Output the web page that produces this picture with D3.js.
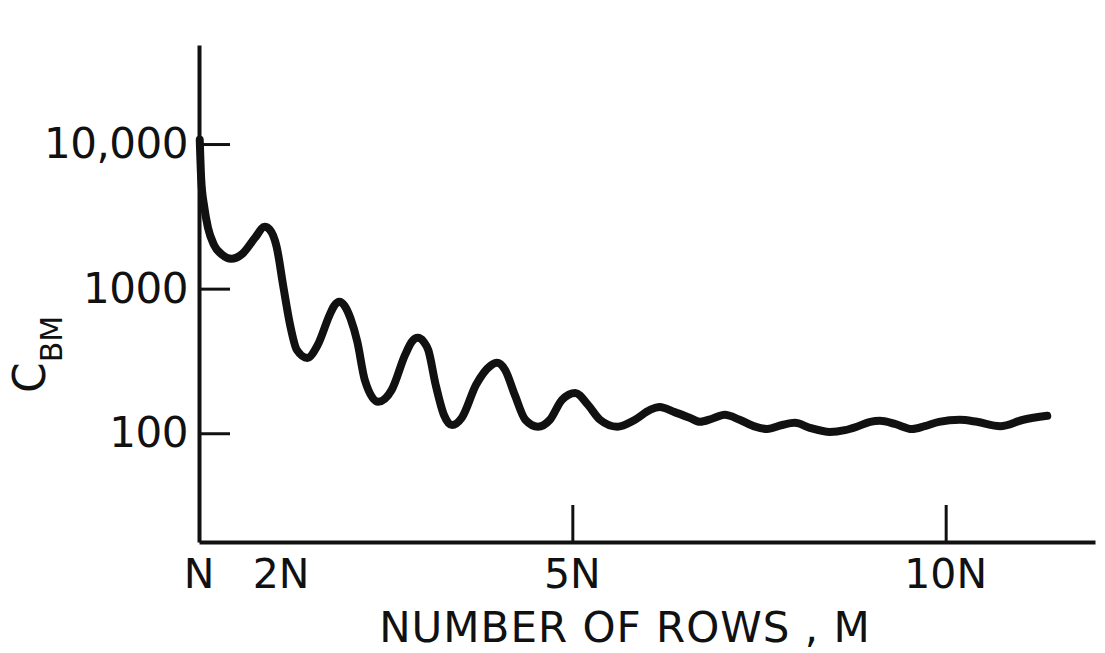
<!DOCTYPE html>
<html>
<head>
<meta charset="utf-8">
<script src="https://cdn.jsdelivr.net/npm/d3@7"></script>
<style>
  body { margin: 0; background: #fff; }
  svg { display: block; }
  text { font-family: "DejaVu Sans", sans-serif; fill: #111; }
</style>
</head>
<body>
<div id="chart"></div>
<script>
// M in units of N (position along the rows axis), C_BM
const rows = [0.01, 0.03, 0.07, 0.12, 0.20, 0.31, 0.43, 0.58, 0.75, 0.88, 0.95,
  1.04, 1.13, 1.22, 1.31, 1.45, 1.59, 1.75, 1.81, 1.88, 1.95, 2.03, 2.12, 2.22,
  2.40, 2.58, 2.76, 2.85, 2.93, 3.01, 3.07, 3.17, 3.28, 3.39, 3.52, 3.71, 3.90,
  3.99, 4.10, 4.23, 4.37, 4.54, 4.70, 4.86, 5.04, 5.21, 5.37, 5.60, 5.84, 6.04,
  6.17, 6.37, 6.57, 6.71, 6.87, 7.04, 7.24, 7.45, 7.61, 7.81, 7.98, 8.18, 8.45,
  8.65, 8.81, 8.99, 9.12, 9.32, 9.55, 9.72, 9.91, 10.19, 10.42, 10.73, 11.04,
  11.36];
const cbm = [10700, 5660, 3680, 2640, 2010, 1714, 1608, 1741, 2248, 2679, 2553,
  1947, 1029, 562, 377, 332, 408, 659, 760, 811, 760, 620, 430, 234,
  165, 199, 348, 429, 457, 429, 377, 216, 134, 114, 128, 216, 292,
  307, 274, 184, 124, 111, 124, 170, 190, 157, 124, 111, 124, 145,
  152, 140, 128, 120, 126, 134, 124, 111, 107, 114, 118, 109, 102,
  105, 111, 120, 122, 116, 107, 112, 120, 124, 120, 112, 124,
  132];

const yTicks = [100, 1000, 10000];
const yTickLabels = ["100", "1000", "10,000"];
const xTickMarks = [5, 10];
const xLabelPos = [0, 1.1, 5, 10];
const xLabels = ["N", "2N", "5N", "10N"];

const width = 1105, height = 653;
const margin = { left: 199, right: 10, top: 45, bottom: 111 };
const plotRight = width - margin.right;
const plotBottom = height - margin.bottom;

const x = d3.scaleLinear().domain([0, 12]).range([margin.left, plotRight]);
const y = d3.scaleLog().domain([17.7, 48400]).range([plotBottom, margin.top]);

const svg = d3.select("#chart").append("svg")
  .attr("width", width).attr("height", height);

// y axis, ticks pointing inward
const yAxis = svg.append("g")
  .attr("transform", `translate(${margin.left},0)`)
  .call(d3.axisLeft(y).tickValues(yTicks)
    .tickFormat((d, i) => yTickLabels[i])
    .tickSize(-31).tickSizeOuter(0).tickPadding(11));
yAxis.select(".domain").attr("stroke", "#111").attr("stroke-width", 4);
yAxis.selectAll(".tick line").attr("stroke", "#111").attr("stroke-width", 3);
yAxis.selectAll(".tick text")
  .style("font-size", "42px").attr("fill", "#111").attr("letter-spacing", "-0.5");

// x axis: ticks only at 5N and 10N
const xAxis = svg.append("g")
  .attr("transform", `translate(0,${plotBottom})`)
  .call(d3.axisBottom(x).tickValues(xTickMarks).tickFormat("")
    .tickSize(-37).tickSizeOuter(0));
xAxis.select(".domain").attr("stroke", "#111").attr("stroke-width", 4);
xAxis.selectAll(".tick line").attr("stroke", "#111").attr("stroke-width", 3);

svg.append("g").selectAll("text")
  .data(xLabels)
  .join("text")
  .attr("x", (d, i) => x(xLabelPos[i]))
  .attr("y", plotBottom + 46)
  .attr("text-anchor", "middle")
  .style("font-size", "41px")
  .text(d => d);

svg.append("text")
  .attr("x", 625)
  .attr("y", 642)
  .attr("text-anchor", "middle")
  .attr("letter-spacing", "1")
  .style("font-size", "42px")
  .text("NUMBER OF ROWS , M");

const yTitle = svg.append("text")
  .attr("transform", "translate(45,393) rotate(-90)")
  .style("font-size", "44px");
yTitle.append("tspan").text("C");
yTitle.append("tspan").attr("dy", 17).style("font-size", "30px").text("BM");

// the curve
const pts = rows.map((r, i) => [r, cbm[i]]);
svg.append("path")
  .datum(pts)
  .attr("fill", "none")
  .attr("stroke", "#111")
  .attr("stroke-width", 8)
  .attr("stroke-linecap", "round")
  .attr("stroke-linejoin", "round")
  .attr("d", d3.line()
    .x(d => x(d[0]))
    .y(d => y(d[1]))
    .curve(d3.curveMonotoneX));
</script>
</body>
</html>
